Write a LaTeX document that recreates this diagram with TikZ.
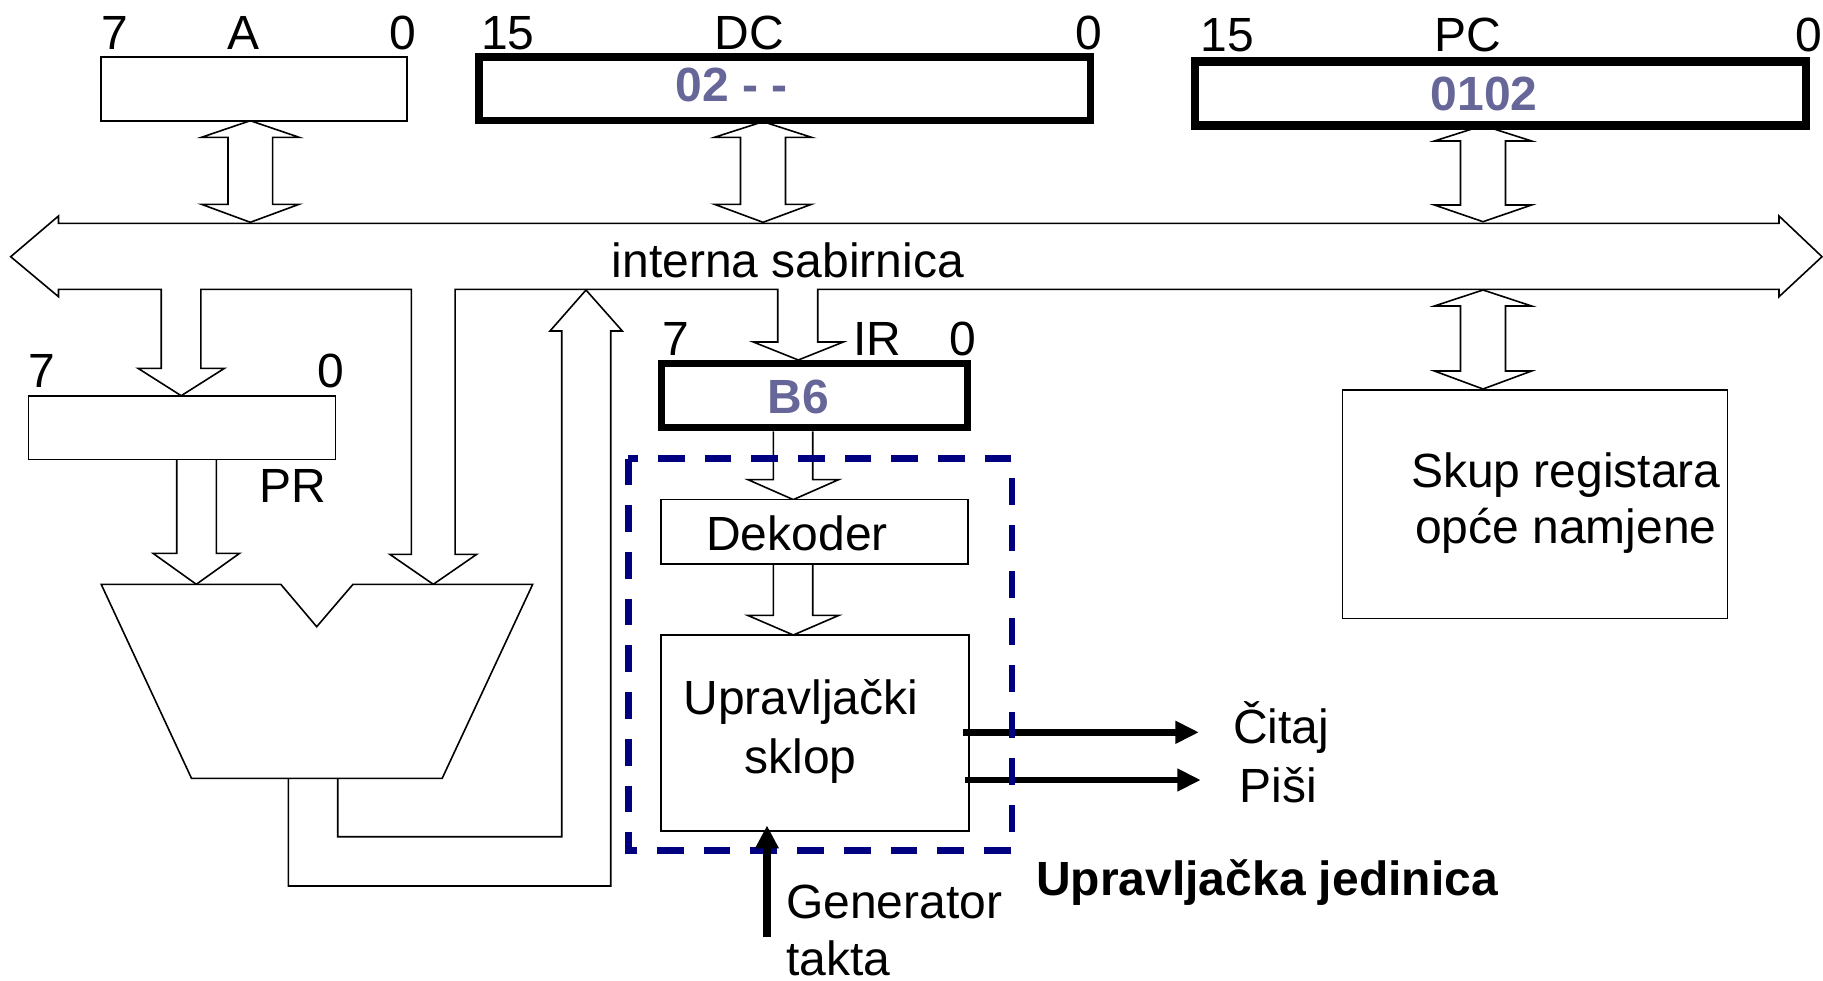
\documentclass[tikz,border=0pt]{standalone}
\usepackage{fontspec}
\setmainfont{Liberation Sans}
\definecolor{valcol}{RGB}{102,102,153}
\definecolor{navyc}{RGB}{0,0,128}
\newcommand\DblArrow[7]{% x, ytip1, ybase1, ybase2, ytip2, headhalf, shafthalf
  \draw[blockarrow] (#1,#2) -- ({#1+#6},#3) -- ({#1+#7},#3) -- ({#1+#7},#4) -- ({#1+#6},#4) -- (#1,#5)
    -- ({#1-#6},#4) -- ({#1-#7},#4) -- ({#1-#7},#3) -- ({#1-#6},#3) -- cycle;}
\begin{document}
\begin{tikzpicture}[x=1pt,y=-1pt,
  lbl/.style={anchor=base,inner sep=0pt,font=\fontsize{48}{57}\selectfont},
  lblw/.style={anchor=base west,inner sep=0pt,font=\fontsize{48}{57}\selectfont},
  val/.style={anchor=base,inner sep=0pt,font=\fontsize{48}{57}\selectfont\bfseries,text=valcol},
  boldlbl/.style={anchor=base,inner sep=0pt,font=\fontsize{48}{57}\selectfont\bfseries},
  thinbox/.style={draw,line width=1.6pt,inner sep=0pt,fill=white},
  regbox/.style={draw,inner sep=0pt,fill=white},
  blockarrow/.style={draw,line width=1.6pt,line join=miter,fill=white},
  openarrow/.style={draw,line width=1.6pt,line join=miter},
  ctrlbox/.style={draw=navyc,line width=6.7pt,dash pattern=on 26.7pt off 20pt},
  sigline/.style={line width=6.7pt},
  ]
\useasboundingbox (0,0) rectangle (1823,980);

% internal bus with branches
\draw[blockarrow] (58.5,223.3) -- (58.5,216) -- (10.7,256.7) -- (58.5,296.7) -- (58.5,289.3)
  -- (161.2,289.3) -- (161.2,368.3) -- (138,368.3) -- (181.2,395.7) -- (224.5,368.3) -- (200.8,368.3) -- (200.8,289.3)
  -- (411.4,289.3) -- (411.4,554.3) -- (389.8,554.3) -- (433.3,584.3) -- (476.7,554.3) -- (455.1,554.3) -- (455.1,289.3)
  -- (777.7,289.3) -- (777.7,342) -- (753.3,342) -- (798.3,360) -- (843.3,342) -- (817.7,342) -- (817.7,289.3)
  -- (1779,289.3) -- (1779,296.7) -- (1822,256.7) -- (1779,216) -- (1779,223.3) -- cycle;
\node[lbl] (bus) at (787.8,277.5) {interna sabirnica};

% double arrows register <-> bus
\DblArrow{250.3}{120.7}{137.3}{204.3}{222.3}{48.8}{22.3}
\DblArrow{763}{121.7}{137.3}{204.3}{222.3}{48.5}{22.5}
\DblArrow{1483}{125.5}{141}{205}{221.7}{48.6}{22.5}
\DblArrow{1483}{290}{306}{371}{389}{48.6}{22.5}

% registers
\node[thinbox, minimum width=306pt, minimum height=64pt] (A) at (254,89) {};
\node[regbox, line width=7.5pt, minimum width=611.5pt, minimum height=63.5pt] (DC) at (784.75,88.75) {};
\node[regbox, line width=8.5pt, minimum width=611pt, minimum height=63.8pt] (PC) at (1500.5,93.6) {};
\node[thinbox, minimum width=307pt, minimum height=63.6pt] (PR) at (182,427.5) {};
\node[regbox, line width=7pt, minimum width=305.3pt, minimum height=63.9pt] (IR) at (814.35,395.55) {};
\node[thinbox, minimum width=385pt, minimum height=228.3pt] (GPR) at (1535,504.15) {};

% register labels
\node[lbl] (A7) at (114.7,49.3) {7};
\node[lbl] (Aname) at (244,49.3) {A};
\node[lbl] (A0) at (402.5,49.3) {0};
\node[lbl] (DC15) at (508,49.3) {15};
\node[lbl] (DCname) at (749.5,49.3) {DC};
\node[lbl] (DC0) at (1089,49.3) {0};
\node[val] (DCval) at (732,101.7) {02 - -};
\node[lbl] (PC15) at (1227,51.7) {15};
\node[lbl] (PCname) at (1467.6,51.7) {PC};
\node[lbl] (PC0) at (1809,51.7) {0};
\node[val] (PCval) at (1484,110) {0102};
\node[lbl] (PR7) at (42,387.7) {7};
\node[lbl] (PR0) at (330.6,387.7) {0};
\node[lbl] (PRname) at (293,502.7) {PR};
\node[lbl] (IR7) at (675.5,355.7) {7};
\node[lbl] (IRname) at (877,355.7) {IR};
\node[lbl] (IR0) at (963.3,355.7) {0};
\node[val] (IRval) at (798.3,413.6) {B6};
\node[lbl] (GPR1) at (1565.8,487.3) {Skup registara};
\node[lbl] (GPR2) at (1566,543.3) {opće namjene};

% PR -> ALU
\draw[openarrow] (176.7,459.3) -- (176.7,553.3) -- (153,553.3) -- (196.3,584.3) -- (239.6,553.3) -- (216.3,553.3) -- (216.3,459.3);

% ALU
\draw[blockarrow] (101.2,584.3) -- (280.8,584.3) -- (316.7,626.7) -- (353,584.3) -- (532.7,584.3)
  -- (442.2,778.3) -- (191.5,778.3) -- cycle;
\coordinate (alu) at (316.7,680);

% ALU output back to bus
\draw[openarrow] (288.3,778.3) -- (288.3,886) -- (610.7,886) -- (610.7,331) -- (622.3,331) -- (586,290)
  -- (550,331) -- (561.7,331) -- (561.7,836.7) -- (337.7,836.7) -- (337.7,778.3);

% control unit
\draw[openarrow] (773.3,431.4) -- (773.3,479.6) -- (747.8,479.6) -- (793.3,499.6) -- (838.8,479.6) -- (812.7,479.6) -- (812.7,431.4);
\node[thinbox, minimum width=307pt, minimum height=64.4pt] (dek) at (814.2,531.8) {};
\node[lbl] (dektxt) at (797,550.4) {Dekoder};
\draw[openarrow] (773.3,564) -- (773.3,615.4) -- (747.8,615.4) -- (793.3,635) -- (838.8,615.4) -- (812.7,615.4) -- (812.7,564);
\node[thinbox, minimum width=308pt, minimum height=196pt] (upr) at (814.7,733) {};
\node[lbl] (upr1) at (801,714.6) {Upravljački};
\node[lbl] (upr2) at (800.5,773.6) {sklop};

% signals
\coordinate (rdS) at (963,732.3);
\coordinate (wrS) at (964.9,780);
\draw[sigline] (rdS) -- (1176,732.3);
\fill (1175.4,720.6) -- (1198.3,732.3) -- (1175.4,744) -- cycle;
\draw[sigline] (wrS) -- (1178,780);
\fill (1177.3,768.3) -- (1200.2,780) -- (1177.3,791.7) -- cycle;
\node[lbl] (rd) at (1281,743.3) {Čitaj};
\node[lbl] (wr) at (1278.3,802.7) {Piši};

% control unit frame
\draw[ctrlbox] (628.3,458.6) rectangle (1012,850.2);
\node[boldlbl] (cu) at (1267,895) {Upravljačka jedinica};

% clock generator
\coordinate (clkS) at (767,936.7);
\draw[line width=7.7pt] (clkS) -- (767,846);
\fill (755,848.3) -- (767,826) -- (779,848.3) -- cycle;
\node[lblw] (clk1) at (786,918.3) {Generator};
\node[lblw] (clk2) at (786,975) {takta};
\end{tikzpicture}
\end{document}
